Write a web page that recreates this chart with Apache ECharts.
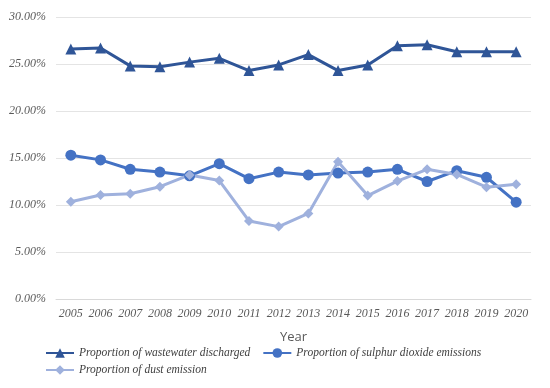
<!DOCTYPE html>
<html><head><meta charset="utf-8">
<script src="https://cdn.jsdelivr.net/npm/echarts@6/dist/echarts.min.js"></script>
<style>html,body{margin:0;padding:0;background:#fff}#c{width:550px;height:388px}</style>
</head><body><div id="c"></div>
<script>
var years = ['2005','2006','2007','2008','2009','2010','2011','2012','2013','2014','2015','2016','2017','2018','2019','2020'];
var wastewater = [26.6, 26.7, 24.8, 24.7, 25.2, 25.6, 24.3, 24.9, 26.0, 24.3, 24.9, 26.95, 27.05, 26.3, 26.3, 26.3];
var sulphur = [15.3, 14.8, 13.8, 13.5, 13.1, 14.4, 12.8, 13.5, 13.2, 13.4, 13.5, 13.8, 12.5, 13.65, 12.95, 10.3];
var dust = [10.35, 11.06, 11.2, 11.95, 13.2, 12.6, 8.3, 7.7, 9.1, 14.6, 11.0, 12.55, 13.8, 13.25, 11.9, 12.2];
var names = ['Proportion of wastewater discharged','Proportion of sulphur dioxide emissions','Proportion of dust emission'];

var chart = echarts.init(document.getElementById('c'));
var serif = '"Liberation Serif", "Times New Roman", serif';
function mk(name, data, color, symbol, size) {
  return {name: name, type: 'line', data: data, symbol: symbol, symbolSize: size,
    lineStyle: {color: color, width: 3}, itemStyle: {color: color}, animation: false};
}
var legendText = {color: '#404040', fontSize: 11.5, fontStyle: 'italic', fontFamily: serif};
chart.setOption({
  animation: false,
  grid: {left: 56, right: 19, top: 17, bottom: 89},
  xAxis: {
    type: 'category', data: years, boundaryGap: true,
    name: 'Year', nameLocation: 'middle', nameGap: 32,
    nameTextStyle: {color: '#595959', fontSize: 13, fontFamily: '"Open Sans", sans-serif'},
    axisLine: {lineStyle: {color: '#d9d9d9'}}, axisTick: {show: false},
    axisLabel: {color: '#595959', fontSize: 12, fontStyle: 'italic', fontFamily: serif, margin: 9, interval: 0}
  },
  yAxis: {
    type: 'value', min: 0, max: 30, interval: 5,
    axisLine: {show: false}, axisTick: {show: false},
    splitLine: {lineStyle: {color: '#e4e4e4', width: 1}},
    axisLabel: {color: '#595959', fontSize: 12, fontStyle: 'italic', fontFamily: serif, margin: 10,
      formatter: function (v) { return v.toFixed(2) + '%'; }}
  },
  legend: [{
    left: 40, top: 342, itemWidth: 28, itemHeight: 12, itemGap: 12,
    textStyle: legendText, data: [names[0], names[1]]
  }, {
    left: 40, top: 359, itemWidth: 28, itemHeight: 12,
    textStyle: legendText, data: [names[2]]
  }],
  series: [
    mk(names[0], wastewater, '#2F5597', 'triangle', 11),
    mk(names[1], sulphur, '#4472C4', 'circle', 11),
    mk(names[2], dust, '#9FB1DD', 'diamond', 10)
  ]
});
</script></body></html>
